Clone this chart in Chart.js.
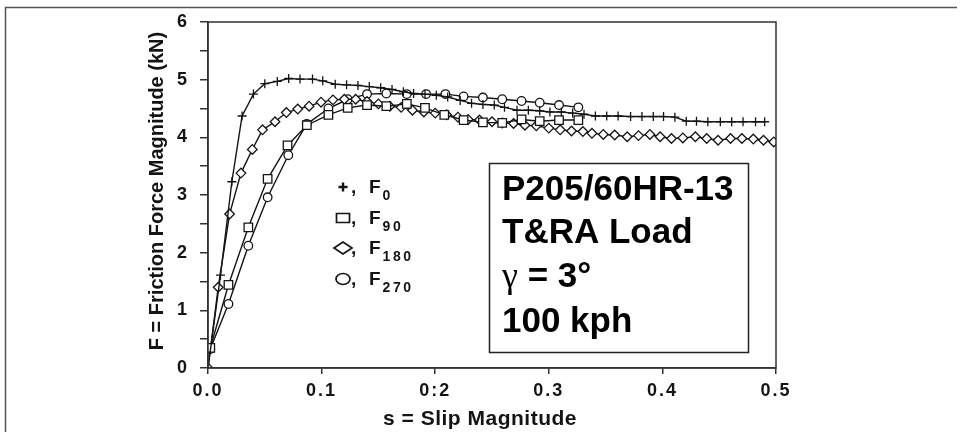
<!DOCTYPE html>
<html>
<head>
<meta charset="utf-8">
<script src="https://cdn.jsdelivr.net/npm/chart.js@4.4.0/dist/chart.umd.min.js"></script>
<style>
  html, body { margin: 0; padding: 0; background: #fff; }
  #wrap { position: relative; width: 961px; height: 432px; }
</style>
</head>
<body>
<div id="wrap"><canvas id="frictionChart" width="961" height="432"></canvas></div>
<script>
// slip magnitude s (x) and friction force F in kN (y)
var slipF0 = [0, 0.011, 0.021, 0.030, 0.040, 0.050, 0.061, 0.071, 0.081, 0.092,
  0.101, 0.112, 0.122, 0.132, 0.142, 0.152, 0.162, 0.172, 0.181, 0.191,
  0.201, 0.211, 0.222, 0.232, 0.242, 0.252, 0.261, 0.272, 0.282, 0.292,
  0.301, 0.311, 0.321, 0.331, 0.341, 0.351, 0.361, 0.372, 0.382, 0.392,
  0.401, 0.411, 0.421, 0.430, 0.440, 0.451, 0.461, 0.471, 0.482, 0.490];
var forceF0 = [0, 1.61, 3.23, 4.37, 4.75, 4.93, 4.97, 5.02, 5.01, 5.01,
  4.98, 4.92, 4.91, 4.90, 4.88, 4.86, 4.83, 4.79, 4.76, 4.75,
  4.73, 4.70, 4.64, 4.59, 4.57, 4.56, 4.52, 4.47, 4.47, 4.46,
  4.44, 4.44, 4.42, 4.40, 4.37, 4.37, 4.37, 4.36, 4.36, 4.36,
  4.36, 4.35, 4.28, 4.28, 4.27, 4.27, 4.27, 4.27, 4.27, 4.27];

var slipF90 = [0.002, 0.018, 0.0355, 0.0525, 0.070, 0.087, 0.106, 0.123, 0.140, 0.157,
  0.175, 0.191, 0.208, 0.225, 0.242, 0.259, 0.276, 0.292, 0.309, 0.326];
var forceF90 = [0.35, 1.44, 2.44, 3.28, 3.86, 4.21, 4.39, 4.51, 4.56, 4.54,
  4.58, 4.51, 4.39, 4.30, 4.26, 4.25, 4.31, 4.28, 4.30, 4.30];

var slipF180 = [0, 0.009, 0.019, 0.029, 0.039, 0.048, 0.059, 0.069, 0.079, 0.089,
  0.0995, 0.110, 0.120, 0.130, 0.140, 0.150, 0.160, 0.170, 0.180, 0.190,
  0.200, 0.210, 0.220, 0.229, 0.239, 0.250, 0.259, 0.269, 0.279, 0.289,
  0.300, 0.310, 0.320, 0.330, 0.338, 0.348, 0.358, 0.369, 0.379, 0.389,
  0.398, 0.408, 0.418, 0.429, 0.439, 0.449, 0.460, 0.470, 0.480, 0.489, 0.498];
var forceF180 = [0, 1.40, 2.67, 3.38, 3.79, 4.13, 4.27, 4.43, 4.49, 4.54,
  4.61, 4.65, 4.66, 4.66, 4.62, 4.58, 4.54, 4.52, 4.47, 4.44,
  4.42, 4.39, 4.35, 4.31, 4.30, 4.27, 4.25, 4.24, 4.21, 4.20,
  4.16, 4.13, 4.11, 4.10, 4.07, 4.05, 4.04, 4.01, 4.03, 4.05,
  4.01, 3.98, 3.99, 4.01, 3.98, 3.95, 3.98, 3.98, 3.97, 3.95, 3.92];

var slipF270 = [0.002, 0.018, 0.0355, 0.0525, 0.0707, 0.087, 0.106, 0.123, 0.140, 0.157,
  0.175, 0.192, 0.209, 0.225, 0.242, 0.259, 0.276, 0.292, 0.309, 0.326];
var forceF270 = [0.33, 1.11, 2.12, 2.96, 3.69, 4.23, 4.50, 4.66, 4.75, 4.76,
  4.75, 4.75, 4.75, 4.71, 4.69, 4.66, 4.63, 4.60, 4.56, 4.52];

var seriesNames = ['F0', 'F90', 'F180', 'F270'];
var legendSubscripts = ['0', '90', '180', '270'];
var legendMarks = ['+', '□', '◇', '○'];

var xTickLabels = ['0.0', '0.1', '0:2', '0.3', '0.4', '0.5'];
var yTickLabels = ['0', '1', '2', '3', '4', '5', '6'];

var xTitle = 's = Slip Magnitude';
var yTitle = 'F = Friction Force Magnitude (kN)';
var boxLines = ['P205/60HR-13', 'T&RA Load', 'γ = 3°', '100 kph'];

var FONT = '"Liberation Sans", Arial, Helvetica, sans-serif';
var INK = '#141414';

function toPoints(xs, ys) {
  var pts = [];
  for (var i = 0; i < xs.length; i++) {
    pts.push({ x: xs[i], y: ys[i] });
  }
  return pts;
}

// legend glyphs are drawn a bit wider than tall, like in the original
function drawLegendMark(ctx, kind, x, y) {
  ctx.beginPath();
  if (kind === '+') {
    ctx.moveTo(x - 4.5, y); ctx.lineTo(x + 4.5, y);
    ctx.moveTo(x, y - 4.5); ctx.lineTo(x, y + 4.5);
    ctx.lineWidth = 2.4;
    ctx.stroke();
    return;
  }
  if (kind === '□') {
    ctx.rect(x - 6.5, y - 4.5, 13, 9);
  } else if (kind === '◇') {
    ctx.moveTo(x - 9, y); ctx.lineTo(x, y - 6); ctx.lineTo(x + 9, y); ctx.lineTo(x, y + 6);
    ctx.closePath();
  } else {
    ctx.ellipse(x, y, 7, 5.5, 0, 0, Math.PI * 2);
  }
  ctx.fillStyle = '#fff';
  ctx.fill();
  ctx.lineWidth = 1.7;
  ctx.stroke();
}

var decorPlugin = {
  id: 'decor',
  beforeDraw: function (chart) {
    var ctx = chart.ctx;
    ctx.save();
    ctx.fillStyle = '#fff';
    ctx.fillRect(0, 0, chart.width, chart.height);
    ctx.restore();
    // the printed tick numbers are widely spaced
    ctx.letterSpacing = '2px';
  },
  beforeDatasetsDraw: function (chart) {
    chart.ctx.letterSpacing = '0px';
  },
  afterDatasetsDraw: function (chart) {
    var ctx = chart.ctx;
    var a = chart.chartArea;
    ctx.save();
    ctx.letterSpacing = '0px';

    // plot frame
    ctx.strokeStyle = '#333';
    ctx.lineWidth = 1.5;
    ctx.strokeRect(a.left, a.top, a.right - a.left, a.bottom - a.top);

    // page frame (top and left edge)
    ctx.strokeStyle = '#555';
    ctx.beginPath();
    ctx.moveTo(5.5, 432);
    ctx.lineTo(5.5, 7.5);
    ctx.lineTo(957, 7.5);
    ctx.stroke();

    // axis titles
    ctx.fillStyle = INK;
    ctx.textAlign = 'center';
    ctx.textBaseline = 'middle';
    ctx.font = 'bold 20px ' + FONT;
    ctx.save();
    ctx.translate(157, 191);
    ctx.rotate(-Math.PI / 2);
    ctx.fillText(yTitle, 0, 0);
    ctx.restore();

    ctx.font = 'bold 21px ' + FONT;
    ctx.letterSpacing = '0.5px';
    ctx.textBaseline = 'alphabetic';
    ctx.fillText(xTitle, 480, 425);
    ctx.letterSpacing = '0px';

    // legend
    var baseY = [193, 224, 254, 285];
    ctx.textAlign = 'left';
    for (var i = 0; i < seriesNames.length; i++) {
      var by = baseY[i];
      ctx.strokeStyle = INK;
      drawLegendMark(ctx, legendMarks[i], 343, by - 6);
      ctx.fillStyle = INK;
      ctx.font = 'bold 19px ' + FONT;
      ctx.fillText(',', 351, by);
      ctx.fillText('F', 369, by);
      var fw = ctx.measureText('F').width;
      ctx.font = 'bold 14px ' + FONT;
      ctx.letterSpacing = '2.5px';
      ctx.fillText(legendSubscripts[i], 369 + fw + 2, by + 7);
      ctx.letterSpacing = '0px';
    }

    // condition box
    ctx.fillStyle = '#fff';
    ctx.fillRect(489, 163, 259, 189);
    ctx.strokeStyle = '#222';
    ctx.lineWidth = 1.5;
    ctx.strokeRect(489.5, 163.5, 259, 189);
    ctx.fillStyle = '#000';
    var lineY = [200, 243, 287, 332];
    for (var k = 0; k < boxLines.length; k++) {
      var txt = boxLines[k];
      var x0 = 502;
      if (txt.charAt(0) === 'γ') {
        ctx.font = '36px "Liberation Serif", "DejaVu Serif", serif';
        ctx.fillText('γ', x0, lineY[k]);
        x0 += ctx.measureText('γ').width;
        txt = txt.substring(1);
      }
      ctx.font = 'bold 35px ' + FONT;
      ctx.fillText(txt, x0, lineY[k]);
    }
    ctx.restore();
  }
};

function makeSet(label, xs, ys, style, radius) {
  return {
    label: label,
    data: toPoints(xs, ys),
    showLine: true,
    borderColor: INK,
    borderWidth: 1.4,
    pointStyle: style,
    pointRadius: radius,
    pointBorderWidth: 1.3,
    pointBorderColor: INK,
    pointBackgroundColor: '#fff',
    tension: 0
  };
}

var ctx = document.getElementById('frictionChart');
var frictionChart = new Chart(ctx, {
  type: 'scatter',
  data: {
    datasets: [
      makeSet(seriesNames[0], slipF0, forceF0, 'cross', 4.5),
      makeSet(seriesNames[1], slipF90, forceF90, 'rect', 6),
      makeSet(seriesNames[2], slipF180, forceF180, 'rectRot', 4.8),
      makeSet(seriesNames[3], slipF270, forceF270, 'circle', 4.3)
    ]
  },
  options: {
    responsive: false,
    animation: false,
    layout: { padding: { left: 0, right: 185, top: 22, bottom: 0 } },
    plugins: {
      legend: { display: false },
      tooltip: { enabled: false },
      title: { display: false }
    },
    scales: {
      x: {
        type: 'linear',
        min: 0,
        max: 0.5,
        afterFit: function (scale) { scale.height = 64; },
        ticks: {
          stepSize: 0.1,
          padding: 6,
          color: INK,
          font: { family: FONT, size: 18, weight: 'bold' },
          callback: function (value, index) { return xTickLabels[index]; }
        },
        grid: { display: true, drawOnChartArea: false, drawTicks: true, tickLength: 6, color: '#333', lineWidth: 1.5 },
        border: { display: true, color: '#333', width: 1.5 }
      },
      y: {
        type: 'linear',
        min: 0,
        max: 6,
        afterFit: function (scale) { scale.width = 208; },
        ticks: {
          stepSize: 0.5,
          padding: 11,
          color: INK,
          font: { family: FONT, size: 18, weight: 'bold' },
          callback: function (value) {
            return value % 1 === 0 ? yTickLabels[value] : '';
          }
        },
        grid: { display: true, drawOnChartArea: false, drawTicks: true, tickLength: 8, color: '#333', lineWidth: 1.5 },
        border: { display: true, color: '#333', width: 1.5 }
      }
    }
  },
  plugins: [decorPlugin]
});
</script>
</body>
</html>
